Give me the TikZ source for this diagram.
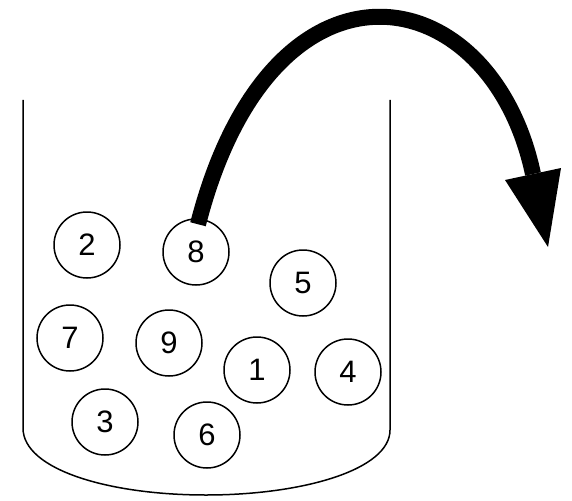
\documentclass[tikz,border=0pt]{standalone}
\usepackage{fontspec}
\setmainfont{Liberation Sans}
\begin{document}
\begin{tikzpicture}[x=1pt,y=-1pt,
  ball/.style={draw,circle,line width=1.5pt,minimum size=66pt,inner sep=0pt,font=\fontsize{31}{36}\selectfont},
  jar/.style={line width=1.5pt},
  bigarrow/.style={line width=16pt}]
\useasboundingbox (0,0) rectangle (572,500);
\draw[jar] (23,100) -- (23,428) .. controls (23,470) and (110,495) .. (206,495)
  .. controls (302,495) and (390,470) .. (390,430) -- (390,100);
\node[ball] (n2) at (87,245) {2};
\node[ball] (n8) at (196,252) {8};
\node[ball] (n5) at (303,283) {5};
\node[ball] (n7) at (70,338) {7};
\node[ball] (n9) at (169,343) {9};
\node[ball] (n1) at (257,370) {1};
\node[ball] (n4) at (348,372) {4};
\node[ball] (n3) at (105,422) {3};
\node[ball] (n6) at (207,435) {6};
\coordinate (base) at (533,174);
\coordinate (tip) at (548,247);
\coordinate (bl) at (505,180);
\coordinate (br) at (561,168);
\draw[bigarrow] ([xshift=2pt,yshift=-6pt]n8.north) .. controls (272,-64) and (491,-24) .. (base);
\fill (bl) -- (br) -- (tip) -- cycle;
\end{tikzpicture}
\end{document}
